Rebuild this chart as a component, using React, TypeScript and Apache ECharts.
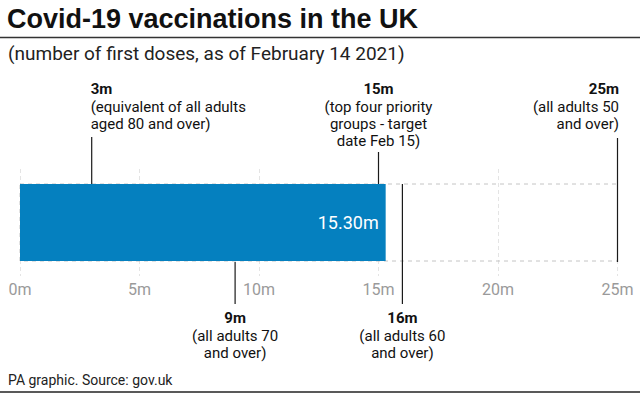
import React, { useEffect, useRef } from 'react';
import * as echarts from 'echarts';

const titleText = 'Covid-19 vaccinations in the UK';
const subtitleText = '(number of first doses, as of February 14 2021)';
const sourceText = 'PA graphic. Source: gov.uk';

const categories = ['First doses'];
const doses = [15.3];
const axisMin = 0;
const axisMax = 25;
const axisInterval = 5;

const milestoneValues = [3, 15, 25, 9, 16];
const milestoneLabels = ['3m', '15m', '25m', '9m', '16m'];
const milestoneNotes = [
  '(equivalent of all adults\naged 80 and over)',
  '(top four priority\ngroups - target\ndate Feb 15)',
  '(all adults 50\nand over)',
  '(all adults 70\nand over)',
  '(all adults 60\nand over)',
];

// layout (pixels) for each milestone annotation
const milestoneAlign = ['left', 'center', 'right', 'center', 'center'];
const milestoneAlignOffset = [-1, 0, 1.5, 0, 0];
const milestoneLineY = [
  [137, 184],
  [152, 184],
  [138, 262],
  [262, 304],
  [184, 304],
];
const milestoneLabelY = [89, 89, 89, 318, 318];

const FONT = 'Roboto, "Liberation Sans", Arial, sans-serif';
const TITLE_FONT = '"Liberation Sans", Arial, sans-serif';

export default function App() {
  const ref = useRef<HTMLDivElement>(null);

  useEffect(() => {
    if (!ref.current) return;
    const chart = echarts.init(ref.current, undefined, { renderer: 'svg' });
    chart.setOption({
      animation: false,
      backgroundColor: '#ffffff',
      grid: { left: 20, right: 22.5, top: 169, bottom: 120, containLabel: false },
      xAxis: {
        type: 'value',
        min: axisMin,
        max: axisMax,
        interval: axisInterval,
        axisLine: { show: false },
        axisTick: { show: false },
        axisLabel: {
          formatter: '{value}m',
          color: '#9a9a9a',
          fontSize: 16,
          fontFamily: FONT,
          margin: 5,
        },
        splitLine: { show: true, lineStyle: { color: '#e4e4e4', width: 1, type: [4, 3] } },
      },
      yAxis: {
        type: 'category',
        data: categories,
        show: false,
      },
      series: [
        {
          type: 'bar',
          data: doses,
          barWidth: 77,
          itemStyle: { color: '#0580bf' },
          showBackground: true,
          backgroundStyle: {
            color: 'rgba(0,0,0,0)',
            borderColor: '#c4c4c4',
            borderWidth: 1,
            borderType: [4, 4],
          },
          label: {
            show: true,
            position: 'insideRight',
            distance: 7,
            color: '#ffffff',
            fontSize: 18,
            fontFamily: FONT,
            formatter: (p: any) => p.value.toFixed(2) + 'm',
          },
        },
      ],
    });

    const graphics: any[] = [
      {
        type: 'text',
        x: 7,
        y: 19,
        style: {
          text: titleText,
          font: `bold 27px ${TITLE_FONT}`,
          fill: '#111',
          textVerticalAlign: 'middle',
        },
      },
      {
        type: 'line',
        shape: { x1: 0, y1: 37.5, x2: 640, y2: 37.5 },
        style: { stroke: '#333', lineWidth: 1.5 },
      },
      {
        type: 'text',
        x: 8,
        y: 53,
        style: {
          text: subtitleText,
          font: `19px ${FONT}`,
          fill: '#222',
          textVerticalAlign: 'middle',
        },
      },
      {
        type: 'text',
        left: 8,
        top: 373,
        style: { text: sourceText, font: `14px ${FONT}`, fill: '#222' },
      },
      {
        type: 'line',
        shape: { x1: 0, y1: 392, x2: 640, y2: 392 },
        style: { stroke: '#222', lineWidth: 1.5 },
      },
    ];

    milestoneValues.forEach((v, i) => {
      const px = chart.convertToPixel({ xAxisIndex: 0 }, v) as number;
      const [y1, y2] = milestoneLineY[i];
      const tx = px + milestoneAlignOffset[i];
      const ly = milestoneLabelY[i];
      graphics.push({
        type: 'line',
        shape: { x1: px, y1, x2: px, y2 },
        style: { stroke: '#1a1a1a', lineWidth: 1.2 },
        z: 10,
      });
      graphics.push({
        type: 'text',
        x: tx,
        y: ly,
        style: {
          text: milestoneLabels[i],
          font: `bold 15px ${FONT}`,
          fill: '#111',
          textAlign: milestoneAlign[i],
          textVerticalAlign: 'middle',
        },
      });
      graphics.push({
        type: 'text',
        x: tx,
        y: ly + 9,
        style: {
          text: milestoneNotes[i],
          font: `15px ${FONT}`,
          lineHeight: 17,
          fill: '#111',
          textAlign: milestoneAlign[i],
          textVerticalAlign: 'top',
        },
      });
    });

    chart.setOption({ graphic: graphics });

    return () => chart.dispose();
  }, []);

  return (
    <div
      ref={ref}
      style={{ position: 'fixed', left: 0, top: 0, width: 640, height: 396 }}
    />
  );
}
